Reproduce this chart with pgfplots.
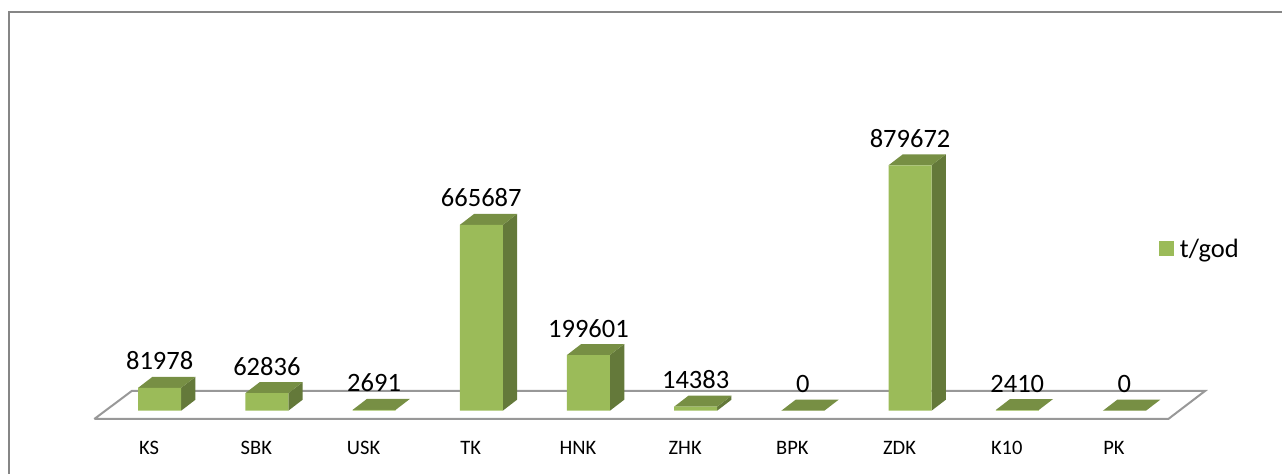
\documentclass[border=0pt]{standalone}
\usepackage{fontspec}
\setmainfont{Carlito}
\usepackage{pgfplots}
\pgfplotsset{compat=1.18}
\definecolor{front}{HTML}{9BBB59}
\definecolor{topc}{HTML}{778F44}
\definecolor{sidec}{HTML}{64793A}
\definecolor{frame}{HTML}{868686}
\definecolor{floorc}{HTML}{989898}
\begin{document}
\begin{tikzpicture}
\begin{axis}[
  scale only axis, width=1282pt, height=474pt,
  xmin=-1.4893, xmax=10.4697, ymin=-226882, ymax=1472043,
  axis line style={draw=none}, tick style={draw=none},
  ymajorticks=false,
  xtick={0,1,2,3,4,5,6,7,8,9},
  xticklabels={KS,SBK,USK,TK,HNK,ZHK,BPK,ZDK,K10,PK},
  xticklabel style={font=\fontsize{20.5}{22}\selectfont, xshift=-10.5pt, yshift=36pt, text=black},
  legend style={draw=none, fill=none, at={(axis cs:9.322,581000)}, anchor=west, font=\fontsize{26.5}{30}\selectfont, inner sep=0pt, outer sep=0pt},
  legend image code/.code={\fill[front] (0pt,-7.5pt) rectangle (15pt,7.5pt); \path (19pt,0pt);},
  top/.style={fill=topc, draw=none, forget plot},
  side/.style={fill=sidec, draw=none, forget plot},
  clip=true,
]
% chart frame
\addplot[frame, line width=2pt, forget plot] coordinates {(-1.4053,-226882) (-1.4053,1429000) (10.4697,1429000)};
% floor
\addplot[floorc, line width=2pt, line join=miter, forget plot] coordinates {(-0.6096,-29749) (9.4090,-29749) (9.7514,70609) (-0.2607,70609) (-0.6096,-29749)};
% side faces
\addplot[side] coordinates {(0.2006,0) (0.3340,39427) (0.3340,121405) (0.2006,81978)} \closedcycle;
\addplot[side] coordinates {(1.2006,0) (1.3340,39427) (1.3340,102263) (1.2006,62836)} \closedcycle;
\addplot[side] coordinates {(3.2006,0) (3.3340,39427) (3.3340,705114) (3.2006,665687)} \closedcycle;
\addplot[side] coordinates {(4.2006,0) (4.3340,39427) (4.3340,239028) (4.2006,199601)} \closedcycle;
\addplot[side] coordinates {(5.2006,0) (5.3340,39427) (5.3340,53810) (5.2006,14383)} \closedcycle;
\addplot[side] coordinates {(7.2006,0) (7.3340,39427) (7.3340,919099) (7.2006,879672)} \closedcycle;
% top faces
\addplot[top] coordinates {(-0.2006,81978) (0.2006,81978) (0.3340,121405) (-0.0672,121405)} -- cycle;
\addplot[top] coordinates {(0.7994,62836) (1.2006,62836) (1.3340,102263) (0.9328,102263)} -- cycle;
\addplot[top] coordinates {(1.7994,2691) (2.2006,2691) (2.3340,42118) (1.9328,42118)} -- cycle;
\addplot[top] coordinates {(2.7994,665687) (3.2006,665687) (3.3340,705114) (2.9328,705114)} -- cycle;
\addplot[top] coordinates {(3.7994,199601) (4.2006,199601) (4.3340,239028) (3.9328,239028)} -- cycle;
\addplot[top] coordinates {(4.7994,14383) (5.2006,14383) (5.3340,53810) (4.9328,53810)} -- cycle;
\addplot[top] coordinates {(5.7994,0) (6.2006,0) (6.3340,39427) (5.9328,39427)} -- cycle;
\addplot[top] coordinates {(6.7994,879672) (7.2006,879672) (7.3340,919099) (6.9328,919099)} -- cycle;
\addplot[top] coordinates {(7.7994,2410) (8.2006,2410) (8.3340,41837) (7.9328,41837)} -- cycle;
\addplot[top] coordinates {(8.7994,0) (9.2006,0) (9.3340,39427) (8.9328,39427)} -- cycle;
% front faces and value labels
\addplot[ybar, bar width=43pt, bar shift=0pt, fill=front, draw=none,
  point meta=explicit symbolic,
  nodes near coords,
  nodes near coords style={font=\fontsize{26.5}{30}\selectfont, anchor=base, yshift=18pt, text=black, inner sep=0pt},
] table[meta=v, x=i, y=v] {
i v
0 81978
1 62836
2 2691
3 665687
4 199601
5 14383
6 0
7 879672
8 2410
9 0
};
\addlegendentry{t/god}
\end{axis}
\end{tikzpicture}
\end{document}
